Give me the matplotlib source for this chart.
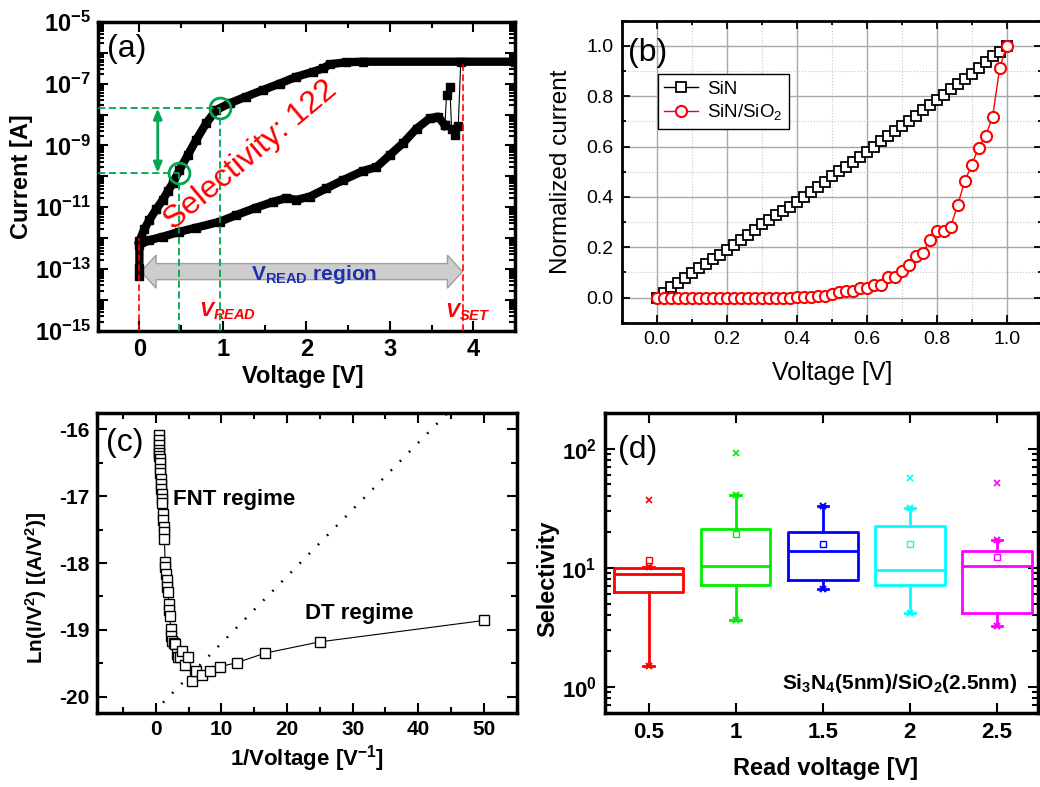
import numpy as np
import matplotlib
matplotlib.use("Agg")
import matplotlib.pyplot as plt
from matplotlib.ticker import FixedLocator, MultipleLocator, FuncFormatter, NullFormatter
from matplotlib.patches import Polygon
import matplotlib.transforms as mtransforms

plt.rcParams['font.family'] = 'Liberation Sans'
plt.rcParams['mathtext.fontset'] = 'custom'
plt.rcParams['mathtext.rm'] = 'Liberation Sans'
plt.rcParams['mathtext.it'] = 'Liberation Sans:italic'
plt.rcParams['mathtext.bf'] = 'Liberation Sans:bold'
plt.rcParams['mathtext.bfit'] = 'Liberation Sans:italic:bold'
plt.rcParams['axes.unicode_minus'] = False

# ---- (a) I-V sweep ----
up_v = [4.50, 2.68, 2.48, 2.28, 2.20, 2.08, 1.88, 1.68, 1.48, 1.28, 1.08, 0.92,
        0.80, 0.68, 0.58, 0.48, 0.40, 0.34, 0.28, 0.20, 0.12, 0.06, 0.00]
up_i = [5.1e-7, 5.1e-7, 4.9e-7, 4.2e-7, 3.1e-7, 2.4e-7, 1.66e-7, 1.0e-7, 6.2e-8,
        3.8e-8, 2.3e-8, 1.4e-8, 5.2e-9, 1.5e-9, 4.9e-10, 1.6e-10, 6.0e-11, 3.3e-11,
        1.74e-11, 8.5e-12, 3.9e-12, 2.0e-12, 8.0e-13]
low_v = [0.00, 0.00, 0.00, 0.12, 0.28, 0.48, 0.68, 0.96, 1.16, 1.40, 1.60, 1.76,
         1.88, 2.04, 2.24, 2.44, 2.68, 2.84, 3.00, 3.16, 3.32, 3.48, 3.58, 3.66]
low_i = [5.8e-14, 1.1e-13, 6.0e-13, 8.7e-13, 1.12e-12, 1.62e-12, 2.2e-12, 3.4e-12,
         5.6e-12, 9.8e-12, 1.5e-11, 2.0e-11, 1.74e-11, 2.2e-11, 4.1e-11, 7.6e-11,
         1.5e-10, 2.0e-10, 4.9e-10, 1.2e-9, 3.5e-9, 7.6e-9, 8.5e-9, 4.5e-9]
spike_v = [3.66, 3.68, 3.72, 3.74, 3.78, 3.82, 3.85]
spike_i = [4.5e-9, 4.3e-8, 7.9e-8, 3.5e-9, 2.2e-9, 4.1e-9, 5.1e-7]
v_set = 3.88
read_v = [0.48, 0.96]
read_i = [1.3e-10, 1.58e-8]

# ---- (b) normalized current ----
volt_b = [0.00, 0.02, 0.04, 0.06, 0.08, 0.10, 0.12, 0.14, 0.16, 0.18, 0.20,
          0.22, 0.24, 0.26, 0.28, 0.30, 0.32, 0.34, 0.36, 0.38, 0.40,
          0.42, 0.44, 0.46, 0.48, 0.50, 0.52, 0.54, 0.56, 0.58, 0.60,
          0.62, 0.64, 0.66, 0.68, 0.70, 0.72, 0.74, 0.76, 0.78, 0.80,
          0.82, 0.84, 0.86, 0.88, 0.90, 0.92, 0.94, 0.96, 0.98, 1.00]
sin_norm = [0.000, 0.017, 0.040, 0.059, 0.078, 0.097, 0.116, 0.134, 0.152, 0.170, 0.188,
            0.208, 0.229, 0.249, 0.270, 0.291, 0.309, 0.326, 0.344, 0.361, 0.379,
            0.400, 0.420, 0.440, 0.460, 0.481, 0.501, 0.520, 0.540, 0.560, 0.580,
            0.600, 0.621, 0.641, 0.661, 0.682, 0.703, 0.723, 0.744, 0.764, 0.785,
            0.806, 0.827, 0.847, 0.868, 0.889, 0.912, 0.935, 0.958, 0.977, 1.000]
sio_norm = [0.000, 0.000, 0.000, 0.000, 0.000, 0.000, 0.000, 0.000, 0.000, 0.000, 0.000,
            0.000, 0.000, 0.000, 0.000, 0.000, 0.000, 0.000, 0.000, 0.000, 0.001,
            0.002, 0.003, 0.005, 0.006, 0.015, 0.020, 0.024, 0.026, 0.036, 0.036,
            0.050, 0.048, 0.080, 0.080, 0.107, 0.130, 0.163, 0.176, 0.229, 0.265,
            0.265, 0.282, 0.368, 0.461, 0.527, 0.596, 0.642, 0.719, 0.911, 1.000]

# ---- (c) FN plot ----
inv_v = [0.46, 0.47, 0.48, 0.50, 0.52, 0.55, 0.58, 0.62, 0.66, 0.70, 0.74, 0.78,
         0.83, 0.88, 0.94, 1.00, 1.12, 1.17, 1.22, 1.27, 1.32, 1.42, 1.48, 1.58,
         1.68, 1.78, 1.88, 1.98, 2.09, 2.14, 2.29, 2.39, 2.54, 2.75, 2.90, 3.16,
         3.46, 3.67, 4.02, 4.43, 4.94, 5.45, 6.16, 7.02, 8.19, 9.82, 12.42, 16.6,
         25.0, 50.0]
ln_iv2 = [-16.09, -16.16, -16.24, -16.31, -16.36, -16.40, -16.44, -16.51, -16.59,
          -16.66, -16.74, -16.81, -16.89, -16.96, -17.04, -17.10, -17.26, -17.36,
          -17.46, -17.54, -17.64, -17.99, -18.06, -18.16, -18.26, -18.36, -18.44,
          -18.61, -18.71, -18.79, -18.99, -19.09, -19.16, -19.19, -19.21, -19.36,
          -19.40, -19.41, -19.31, -19.52, -19.40, -19.76, -19.61, -19.68, -19.61,
          -19.55, -19.49, -19.35, -19.18, -18.86]
fit_x = [1.1, 46.0]
fit_y = [-20.09, -15.6]

# ---- (d) selectivity box chart ----
read_pos = [0.5, 1.0, 1.5, 2.0, 2.5]
read_labels = ['0.5', '1', '1.5', '2', '2.5']
box_colors = ['#ff0000', '#00ee00', '#0000ff', '#00ffff', '#ff00ff']
q1 = [6.24, 7.22, 7.9, 7.18, 4.21]
q3 = [10.0, 21.0, 20.0, 22.4, 13.8]
med = [8.87, 10.35, 13.8, 9.53, 10.4]
whis_lo = [1.49, 3.66, 6.61, 4.16, 3.26]
whis_hi = [10.1, 40.6, 32.9, 31.5, 17.1]
mean_sel = [11.6, 19.2, 15.8, 15.8, 12.3]
outliers = [[36.9], [92.5], [], [56.1], [51.9]]

fig = plt.figure(figsize=(10.4, 7.87), dpi=100)
green = '#00a651'

# ================= (a) =================
ax = fig.add_axes([0.0939, 0.5794, 0.4013, 0.3930])
ax.set_yscale('log')
ax.plot(up_v, up_i, '-', color='black', lw=6, marker='s', ms=6, zorder=3)
ax.plot(low_v, low_i, '-', color='black', lw=6, marker='s', ms=6, zorder=3)
ax.plot(spike_v, spike_i, '-', color='black', lw=0.8, marker='s', ms=6, zorder=3)
ax.set_xlim(-0.5, 4.5)
ax.set_ylim(1e-15, 1e-5)

# red dashed markers for V=0 and V_SET
ax.plot([0, 0], [1e-15, 1.0e-12], color='red', lw=1.2, ls=(0, (4, 2)), zorder=4)
ax.plot([v_set, v_set], [1e-15, 5.1e-7], color='red', lw=1.2, ls=(0, (4, 2)), zorder=4)

# green read markers
for v, i in zip(read_v, read_i):
    ax.plot([v, v], [1e-15, i], color=green, lw=1.3, ls=(0, (4, 2)), zorder=4)
    ax.plot([-0.5, v], [i, i], color=green, lw=1.3, ls=(0, (4, 2)), zorder=4)
ax.plot(read_v, read_i, 'o', ms=15, mfc='none', mec=green, mew=2, zorder=5)
ax.annotate('', xy=(0.22, read_i[1]), xytext=(0.22, read_i[0]),
            arrowprops=dict(arrowstyle='<|-|>,head_length=0.6,head_width=0.25',
                            color=green, lw=2, shrinkA=0, shrinkB=0), zorder=5)

# grey double arrow for V_READ region
trans = mtransforms.blended_transform_factory(ax.transData, ax.transAxes)
x0, x1, yc, sw, hw, hl = 0.02, 3.87, 0.192, 0.052, 0.107, 0.18
verts = [(x0, yc), (x0 + hl, yc + hw / 2), (x0 + hl, yc + sw / 2), (x1 - hl, yc + sw / 2),
         (x1 - hl, yc + hw / 2), (x1, yc), (x1 - hl, yc - hw / 2), (x1 - hl, yc - sw / 2),
         (x0 + hl, yc - sw / 2), (x0 + hl, yc - hw / 2)]
ax.add_patch(Polygon(verts, closed=True, transform=trans, facecolor='#cdcdcd',
                     edgecolor='#a0a0a0', lw=1, zorder=2))
ax.text(1.34, 4.5e-14, r'V$_{\mathbf{READ}}$ region', color='#1f2fb0', fontsize=15,
        fontweight='bold', ha='left', va='baseline', zorder=6)
ax.text(0.72, 2.9e-15, r'$\mathbfit{V}_{\mathbfit{READ}}$', color='red', fontsize=15,
        ha='left', va='baseline')
ax.text(3.66, 2.6e-15, r'$\mathbfit{V}_{\mathbfit{SET}}$', color='red', fontsize=15,
        ha='left', va='baseline')
ax.text(1.34, 4.9e-10, 'Selectivity: 122', color='red', fontsize=23, rotation=40,
        rotation_mode='anchor', ha='center', va='center', zorder=6)
ax.text(0.022, 0.912, '(a)', transform=ax.transAxes, fontsize=23, ha='left', va='center')

ax.xaxis.set_major_locator(MultipleLocator(1))
ax.xaxis.set_minor_locator(MultipleLocator(0.5))
ax.yaxis.set_major_locator(FixedLocator(10.0 ** np.arange(-15, -4)))
ax.yaxis.set_minor_locator(FixedLocator([k * 10.0 ** e for e in range(-15, -5) for k in range(2, 10)]))
ax.yaxis.set_major_formatter(FuncFormatter(
    lambda v, p: r'$\mathbf{10^{%d}}$' % round(np.log10(v)) if round(np.log10(v)) % 2 != 0 else ''))
ax.yaxis.set_minor_formatter(NullFormatter())
ax.tick_params(which='both', direction='in', top=True, right=True, width=1.5)
ax.tick_params(which='major', length=7, labelsize=17, pad=5)
ax.tick_params(which='minor', length=4)
for lab in ax.get_xticklabels():
    lab.set_fontweight('bold')
for s in ax.spines.values():
    s.set_linewidth(2.5)
ax.set_xlabel('Voltage [V]', fontsize=17, fontweight='bold', va='center')
ax.set_ylabel('Current [A]', fontsize=17, fontweight='bold', va='center')
ax.xaxis.set_label_coords(0.491, -0.148)
ax.yaxis.set_label_coords(-0.182, 0.5)

# ================= (b) =================
ax = fig.add_axes([0.5978, 0.5900, 0.4038, 0.3837])
ax.set_axisbelow(True)
ax.plot(volt_b, sin_norm, '-s', color='black', lw=1, ms=7, mfc='white', mec='black',
        mew=1.3, label='SiN', zorder=3)
ax.plot(volt_b, sio_norm, '-o', color='red', lw=1, ms=8, mfc='white', mec='red',
        mew=1.5, label=r'SiN/SiO$_2$', zorder=4)
ax.set_xlim(-0.1, 1.1)
ax.set_ylim(-0.1, 1.1)
ax.xaxis.set_major_locator(MultipleLocator(0.2))
ax.xaxis.set_minor_locator(MultipleLocator(0.1))
ax.yaxis.set_major_locator(MultipleLocator(0.2))
ax.yaxis.set_minor_locator(MultipleLocator(0.1))
ax.xaxis.set_major_formatter(FuncFormatter(lambda v, p: '%.1f' % v if -0.05 < v < 1.05 else ''))
ax.yaxis.set_major_formatter(FuncFormatter(lambda v, p: '%.1f' % v if -0.05 < v < 1.05 else ''))
ax.grid(which='major', color='#a8a8a8', lw=1, ls='-')
ax.grid(which='minor', color='#c8c8c8', lw=0.8, ls=':')
ax.tick_params(which='both', direction='in', top=True, right=True, width=1.3)
ax.tick_params(which='major', length=6, labelsize=14, pad=6)
ax.tick_params(which='minor', length=3)
for s in ax.spines.values():
    s.set_linewidth(2)
leg = ax.legend(loc='upper left', bbox_to_anchor=(0.0857, 0.8235), borderaxespad=0,
                fontsize=13.5, fancybox=False, framealpha=1, edgecolor='black',
                handlelength=1.8, handletextpad=0.5, borderpad=0.35, labelspacing=0.25)
leg.get_frame().set_linewidth(1)
ax.text(0.015, 0.893, '(b)', transform=ax.transAxes, fontsize=23, ha='left', va='center')
ax.set_xlabel('Voltage [V]', fontsize=18, va='center')
ax.set_ylabel('Normalized current', fontsize=17.5, va='center')
ax.xaxis.set_label_coords(0.501, -0.168)
ax.yaxis.set_label_coords(-0.145, 0.5)

# ================= (c) =================
ax = fig.add_axes([0.0930, 0.0936, 0.4038, 0.3820])
ax.plot(inv_v, ln_iv2, '-s', color='black', lw=0.8, ms=6.5, mfc='white', mec='black',
        mew=1, zorder=3)
ax.plot(fit_x, fit_y, color='black', lw=1.8, ls=(0, (0.7, 4.5)), zorder=2)
ax.set_xlim(-9, 55)
ax.set_ylim(-20.25, -15.75)
ax.xaxis.set_major_locator(MultipleLocator(10))
ax.xaxis.set_minor_locator(MultipleLocator(5))
ax.yaxis.set_major_locator(MultipleLocator(1))
ax.yaxis.set_minor_locator(MultipleLocator(0.5))
ax.tick_params(which='both', direction='in', top=True, right=True, width=1.5)
ax.tick_params(which='major', length=7, labelsize=15, pad=5)
ax.tick_params(which='minor', length=4)
for lab in ax.get_xticklabels() + ax.get_yticklabels():
    lab.set_fontweight('bold')
for s in ax.spines.values():
    s.set_linewidth(2.5)
ax.text(2.65, -17.05, 'FNT regime', fontsize=16, fontweight='bold', ha='left', va='center')
ax.text(22.8, -18.75, 'DT regime', fontsize=16, fontweight='bold', ha='left', va='center')
ax.text(0.022, 0.899, '(c)', transform=ax.transAxes, fontsize=23, ha='left', va='center')
ax.set_xlabel(r'1/Voltage [V$^{\mathbf{-1}}$]', fontsize=16, fontweight='bold', va='center')
ax.set_ylabel(r'Ln(I/V$^{\mathbf{2}}$) [(A/V$^{\mathbf{2}}$)]', fontsize=15,
              fontweight='bold', va='center')
ax.xaxis.set_label_coords(0.5, -0.15)
ax.yaxis.set_label_coords(-0.1445, 0.416)

# ================= (d) =================
ax = fig.add_axes([0.5817, 0.0936, 0.4163, 0.3820])
ax.set_yscale('log')
stats = []
for k in range(len(read_pos)):
    stats.append(dict(med=med[k], q1=q1[k], q3=q3[k], whislo=whis_lo[k],
                      whishi=whis_hi[k], mean=mean_sel[k], fliers=outliers[k]))
bp = ax.bxp(stats, positions=read_pos, widths=0.4, showmeans=True, capwidths=0.06,
            meanprops=dict(marker='s', ms=4, mfc='none', mew=1),
            flierprops=dict(marker='x', ms=4, mew=1.2))
for k, c in enumerate(box_colors):
    bp['boxes'][k].set(color=c, lw=2)
    bp['medians'][k].set(color=c, lw=2)
    bp['whiskers'][2 * k].set(color=c, lw=2)
    bp['whiskers'][2 * k + 1].set(color=c, lw=2)
    bp['caps'][2 * k].set(color=c, lw=2)
    bp['caps'][2 * k + 1].set(color=c, lw=2)
    bp['means'][k].set(mec=c)
    bp['fliers'][k].set(mec=c, mfc=c)
    ax.plot([read_pos[k], read_pos[k]], [whis_lo[k], whis_hi[k]], 'x', color=c,
            ms=5, mew=1.5, ls='none')
ax.set_xlim(0.25, 2.735)
ax.set_ylim(0.6, 200)
ax.set_xticks(read_pos)
ax.set_xticklabels(read_labels)
ax.yaxis.set_major_locator(FixedLocator([1, 10, 100]))
ax.yaxis.set_minor_locator(FixedLocator([k * 10.0 ** e for e in range(-1, 3) for k in range(2, 10)]))
ax.yaxis.set_major_formatter(FuncFormatter(lambda v, p: r'$\mathbf{10^{%d}}$' % round(np.log10(v))))
ax.yaxis.set_minor_formatter(NullFormatter())
ax.tick_params(which='both', direction='in', top=True, right=True, width=1.5)
ax.tick_params(which='major', length=7, labelsize=16, pad=6)
ax.tick_params(which='minor', length=4)
for lab in ax.get_xticklabels():
    lab.set_fontweight('bold')
for s in ax.spines.values():
    s.set_linewidth(2.5)
ax.text(2.619, 0.96, r'Si$_{\mathbf{3}}$N$_{\mathbf{4}}$(5nm)/SiO$_{\mathbf{2}}$(2.5nm)',
        fontsize=15, fontweight='bold', ha='right', va='baseline')
ax.text(0.030, 0.876, '(d)', transform=ax.transAxes, fontsize=23, ha='left', va='center')
ax.set_xlabel('Read voltage [V]', fontsize=17, fontweight='bold', va='center')
ax.set_ylabel('Selectivity', fontsize=17, fontweight='bold', va='center')
ax.xaxis.set_label_coords(0.51, -0.183)
ax.yaxis.set_label_coords(-0.133, 0.449)

fig.savefig('out.png', dpi=100)
